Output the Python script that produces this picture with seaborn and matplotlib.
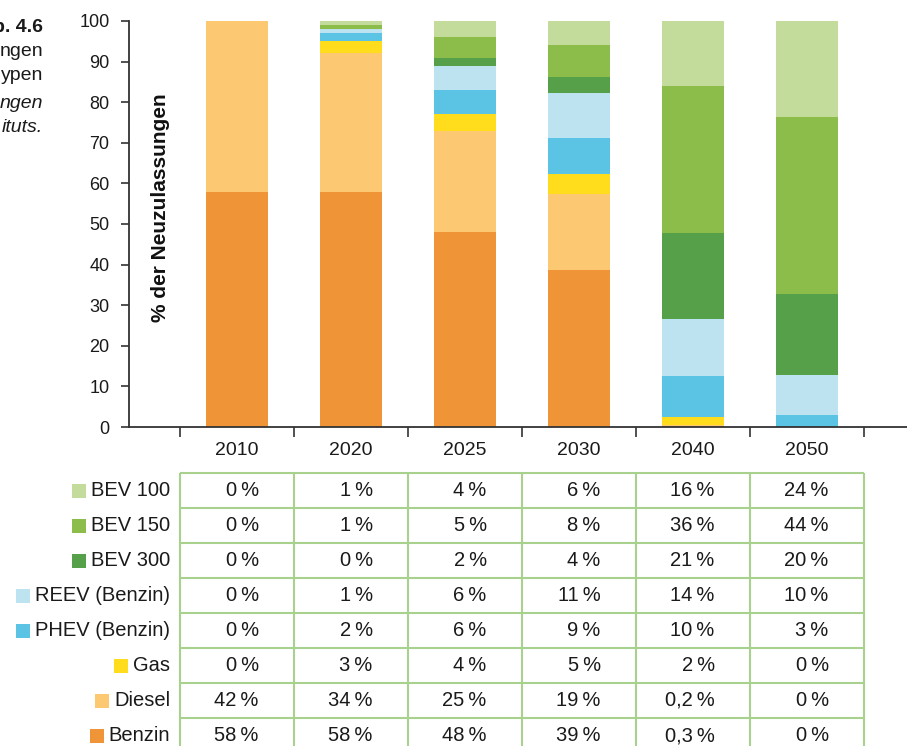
# neuzulassungen_antriebe.py
import matplotlib
matplotlib.use("Agg")
import matplotlib.pyplot as plt
from matplotlib.patches import Rectangle
import numpy as np
import pandas as pd
import seaborn as sns

# Share of new registrations per powertrain (% of Neuzulassungen)
years = ["2010", "2020", "2025", "2030", "2040", "2050"]
benzin = [58, 58, 48, 39, 0.3, 0]
diesel = [42, 34, 25, 19, 0.2, 0]
gas = [0, 3, 4, 5, 2, 0]
phev = [0, 2, 6, 9, 10, 3]
reev = [0, 1, 6, 11, 14, 10]
bev300 = [0, 0, 2, 4, 21, 20]
bev150 = [0, 1, 5, 8, 36, 44]
bev100 = [0, 1, 4, 6, 16, 24]

# bottom -> top stacking order
series_names = ["Benzin", "Diesel", "Gas", "PHEV (Benzin)", "REEV (Benzin)",
                "BEV 300", "BEV 150", "BEV 100"]
series_values = [benzin, diesel, gas, phev, reev, bev300, bev150, bev100]
series_colors = ["#f09537", "#fdc872", "#ffdc1c", "#5bc3e4", "#bee3f0",
                 "#57a04a", "#8cbd4a", "#c3dc9b"]

# caption of the page, cut off by the left edge in the source
caption_lines = ["b. 4.6", "ngen", "ypen", "ngen", "ituts."]

W, H, DPI = 907, 746, 100
GRID = "#a9d18e"
AXCOL = "#333333"


def fmt_pct(v):
    s = f"{v:g}".replace(".", ",")
    return s + "\u2009%"


def main():
    sns.set_theme(style="white")
    plt.rcParams["font.family"] = ["Liberation Sans", "DejaVu Sans"]

    fig = plt.figure(figsize=(W / DPI, H / DPI), dpi=DPI)

    # category centre 0 at x=237px, spacing 114px
    x0, dx = 237, 114
    left_px, right_px = 129, 907
    xlim = ((left_px - x0) / dx, (right_px - x0) / dx)

    ax = fig.add_axes([left_px / W, (H - 427) / H,
                       (right_px - left_px) / W, (427 - 21) / H])

    vals = np.array(series_values, dtype=float)
    # stacks are scaled to 100 % (the rounded table values do not add up exactly)
    cum = np.cumsum(vals, axis=0) / vals.sum(axis=0) * 100
    df = pd.DataFrame({"year": years})
    # draw the tallest cumulative first so lower segments sit on top
    for i in range(len(series_names) - 1, -1, -1):
        df["v"] = cum[i]
        sns.barplot(data=df, x="year", y="v", color=series_colors[i],
                    saturation=1, width=0.55, ax=ax, errorbar=None,
                    linewidth=0, edgecolor="none")

    ax.set_xlim(*xlim)
    ax.set_ylim(0, 100)
    ax.set_yticks(range(0, 101, 10))
    ax.set_xlabel("")
    ax.set_ylabel("")
    sns.despine(ax=ax)
    for side in ("left", "bottom"):
        ax.spines[side].set_color(AXCOL)
        ax.spines[side].set_linewidth(1.3)
    ax.tick_params(axis="y", direction="out", length=6, width=1.2,
                   color=AXCOL, labelsize=13, pad=8, left=True,
                   labelcolor="#1a1a1a")
    ax.tick_params(axis="x", which="major", length=0, labelsize=14, pad=11,
                   labelcolor="#1a1a1a")
    ax.set_xticks(np.arange(-0.5, len(years) + 0.5), minor=True)
    ax.tick_params(axis="x", which="minor", direction="out", length=7,
                   width=1.2, color=AXCOL, bottom=True)
    ax.text(-0.67, 54, "% der Neuzulassungen", rotation=90, fontsize=15,
            fontweight="bold", ha="center", va="center", color="#111111")

    # table below the chart, sharing the category columns
    tab = fig.add_axes([left_px / W, (H - 753) / H,
                        (right_px - left_px) / W, 280 / H])
    tab.set_xlim(*xlim)
    tab.set_ylim(len(series_names), 0)
    tab.axis("off")
    n = len(years)
    for r in range(len(series_names) + 1):
        tab.plot([-0.5, n - 0.5], [r, r], color=GRID, lw=1.5,
                 solid_capstyle="butt", clip_on=False)
    for c in range(n + 1):
        tab.plot([c - 0.5, c - 0.5], [0, len(series_names)], color=GRID,
                 lw=1.5, solid_capstyle="butt", clip_on=False)

    labels = []
    rows = list(range(len(series_names) - 1, -1, -1))  # top row = BEV 100
    for r, si in enumerate(rows):
        for c in range(n):
            tab.text(c + 0.19, r + 0.5, fmt_pct(series_values[si][c]),
                     ha="right", va="center", fontsize=14.5, color="#1a1a1a")
        t = tab.text((170 - x0) / dx, r + 0.5, series_names[si], ha="right",
                     va="center", fontsize=14.5, color="#1a1a1a")
        labels.append((t, series_colors[si]))

    fig.canvas.draw()
    rend = fig.canvas.get_renderer()
    sq = 14
    for t, col in labels:
        bb = t.get_window_extent(rend)
        cy = (bb.y0 + bb.y1) / 2
        fig.add_artist(Rectangle(((bb.x0 - 5 - sq) / W, (cy - sq / 2) / H),
                                 sq / W, sq / H, transform=fig.transFigure,
                                 facecolor=col, edgecolor="none"))

    # partly cut-off figure caption at the top left
    cap_y = [27, 51, 76, 103, 128]
    for i, (line, y) in enumerate(zip(caption_lines, cap_y)):
        fig.text(43 / W, 1 - y / H, line, ha="right", va="center",
                 fontsize=14, color="#1a1a1a",
                 fontweight="bold" if i == 0 else "normal",
                 fontstyle="italic" if i >= 3 else "normal")

    fig.savefig("out.png", dpi=DPI)


if __name__ == "__main__":
    main()
